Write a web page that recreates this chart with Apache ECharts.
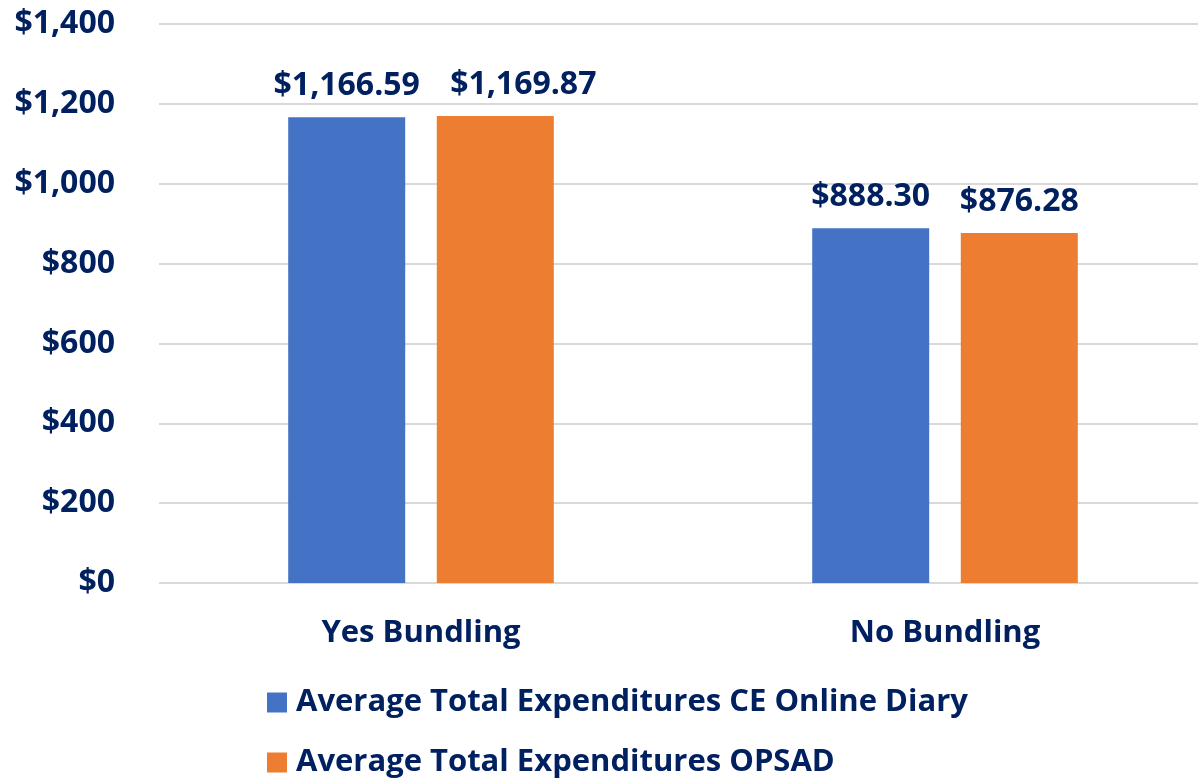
<!DOCTYPE html>
<html>
<head>
  <meta charset="utf-8">
  <title>Bundling</title>
  <script src="https://cdn.jsdelivr.net/npm/echarts@6/dist/echarts.min.js"></script>
  <style>
    html, body { margin: 0; padding: 0; background: #fff; overflow: hidden; }
  </style>
</head>
<body>
  <!-- 比窗口略宽，网格线在右边被裁掉 -->
  <div id="main" style="width:1210px;height:778px;"></div>
  <script type="text/javascript">
    var categories = ['Yes Bundling', 'No Bundling'];
    var seriesNames = ['Average Total Expenditures CE Online Diary', 'Average Total Expenditures OPSAD'];
    var onlineDiary = [1166.59, 888.30];
    var opsad = [1169.87, 876.28];
    var yTicks = [0, 200, 400, 600, 800, 1000, 1200, 1400];

    var navy = '#002060';
    var font = '"Open Sans", "Noto Sans", sans-serif';

    function money(v, dec) {
      return '$' + Number(v).toLocaleString('en-US', { minimumFractionDigits: dec, maximumFractionDigits: dec });
    }

    var myChart = echarts.init(document.getElementById('main'));
    var labelStyle = {
      show: true,
      position: 'top',
      distance: 15,
      color: navy,
      fontWeight: 'bold',
      fontSize: 32,
      fontFamily: font,
      formatter: function (p) { return money(p.value, 2); }
    };
    var legendText = { color: navy, fontWeight: 'bold', fontSize: 31, fontFamily: font, padding: [0, 0, 0, 4] };
    // 第一组的橙色标签向右挪开，避免重叠
    var opsadData = opsad.map(function (v, i) {
      return i === 0 ? { value: v, label: { offset: [28, 0] } } : v;
    });
    var option = {
      animation: false,
      textStyle: { fontFamily: font },
      grid: { left: 159, right: 3, top: 24, bottom: 195, containLabel: false },
      legend: [{
        left: 262,
        top: 682,
        itemWidth: 20,
        itemHeight: 20,
        icon: 'rect',
        data: [seriesNames[0]],
        textStyle: legendText
      }, {
        left: 262,
        top: 742,
        itemWidth: 20,
        itemHeight: 20,
        icon: 'rect',
        data: [seriesNames[1]],
        textStyle: legendText
      }],
      xAxis: {
        type: 'category',
        data: categories,
        axisLine: { show: false },
        axisTick: { show: false },
        axisLabel: { color: navy, fontWeight: 'bold', fontSize: 31, fontFamily: font, margin: 35 }
      },
      yAxis: {
        type: 'value',
        min: yTicks[0],
        max: yTicks[yTicks.length - 1],
        interval: 200,
        axisLine: { show: false },
        axisTick: { show: false },
        axisLabel: {
          color: navy, fontWeight: 'bold', fontSize: 32, fontFamily: font, margin: 44,
          formatter: function (v) { return money(v, 0); }
        },
        splitLine: { lineStyle: { color: '#d9d9d9', width: 2 } }
      },
      series: [{
        name: seriesNames[0],
        type: 'bar',
        data: onlineDiary,
        barWidth: 117,
        barGap: '27%',
        itemStyle: { color: '#4472c4' },
        label: labelStyle
      }, {
        name: seriesNames[1],
        type: 'bar',
        data: opsadData,
        barWidth: 117,
        itemStyle: { color: '#ed7d31' },
        label: labelStyle
      }]
    };
    myChart.setOption(option);
  </script>
</body>
</html>
